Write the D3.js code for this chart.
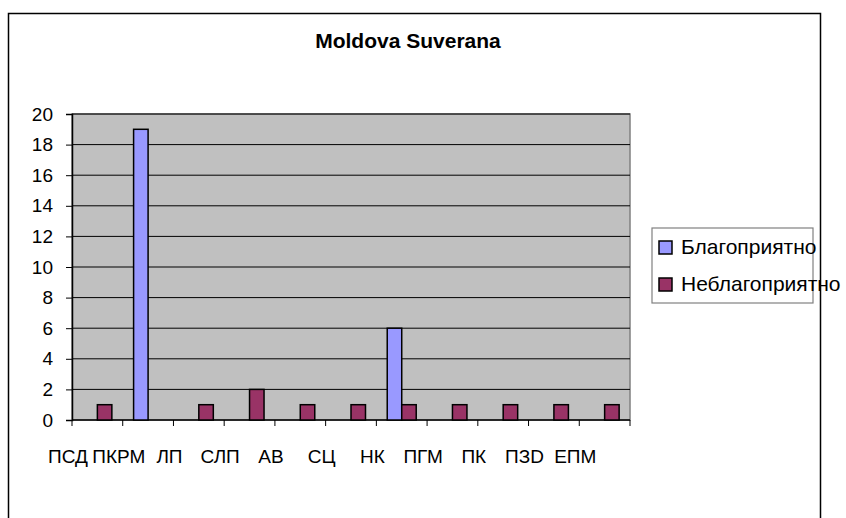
<!DOCTYPE html>
<html>
<head>
<meta charset="utf-8">
<script src="https://cdn.jsdelivr.net/npm/d3@7/dist/d3.min.js"></script>
<style>
  html, body { margin: 0; padding: 0; background: #fff; }
  svg { display: block; font-family: "Liberation Sans", Arial, sans-serif; }
</style>
</head>
<body>
<svg id="chart" width="846" height="518"></svg>
<script>
const title = "Moldova Suverana";
const categories = ["ПСД", "ПКРМ", "ЛП", "СЛП", "АВ", "СЦ", "НК", "ПГМ", "ПК", "ПЗD", "ЕПМ"];
const seriesNames = ["Благоприятно", "Неблагоприятно"];
const favorable = [0, 19, 0, 0, 0, 0, 6, 0, 0, 0, 0];
const unfavorable = [1, 0, 1, 2, 1, 1, 1, 1, 1, 1, 1];
const yTicks = [0, 2, 4, 6, 8, 10, 12, 14, 16, 18, 20];
const colors = ["#9999FF", "#993366"];

const svg = d3.select("#chart");
const plot = { left: 72, right: 630, top: 114, bottom: 420 };

// outer chart frame (bottom runs off the picture)
svg.append("path")
    .attr("d", "M8.5,530 V13.5 H820.5 V530")
    .attr("fill", "none")
    .attr("stroke", "#000")
    .attr("stroke-width", 1.5);

svg.append("text")
    .attr("x", 408)
    .attr("y", 48)
    .attr("text-anchor", "middle")
    .attr("font-size", 21)
    .attr("font-weight", "bold")
    .text(title);

const x0 = d3.scaleBand()
    .domain(categories)
    .range([plot.left, plot.right]);

// Excel-like clustered bars: gap width 150%
const groupWidth = x0.bandwidth() * 2 / 3.5;
const x1 = d3.scaleBand()
    .domain(seriesNames)
    .range([0, groupWidth]);

const y = d3.scaleLinear()
    .domain([0, 20])
    .range([plot.bottom, plot.top]);

// plot background
svg.append("rect")
    .attr("x", plot.left)
    .attr("y", plot.top)
    .attr("width", plot.right - plot.left)
    .attr("height", plot.bottom - plot.top)
    .attr("fill", "#C0C0C0")
    .attr("stroke", "#808080")
    .attr("stroke-width", 1.5);

// gridlines
svg.append("g")
    .selectAll("line")
    .data(yTicks.filter(d => d > 0))
    .join("line")
    .attr("x1", plot.left)
    .attr("x2", plot.right)
    .attr("y1", d => y(d))
    .attr("y2", d => y(d))
    .attr("stroke", "#000")
    .attr("stroke-width", 1);

// y axis
const yAxis = d3.axisLeft(y)
    .tickValues(yTicks)
    .tickSize(6)
    .tickPadding(13);

svg.append("g")
    .attr("transform", `translate(${plot.left}, 0)`)
    .call(yAxis)
    .call(g => g.select(".domain").attr("stroke", "#000").attr("stroke-width", 1.5))
    .call(g => g.selectAll(".tick line").attr("stroke", "#000"))
    .call(g => g.selectAll(".tick text")
        .attr("font-size", 19)
        .attr("font-family", "Liberation Sans, Arial, sans-serif")
        .attr("fill", "#000"));

// x axis: ticks at category boundaries
const xBoundaries = categories.map(d => x0(d)).concat([plot.right]);
const xAxisG = svg.append("g");
xAxisG.append("line")
    .attr("x1", plot.left)
    .attr("x2", plot.right)
    .attr("y1", plot.bottom)
    .attr("y2", plot.bottom)
    .attr("stroke", "#000")
    .attr("stroke-width", 1.5);
xAxisG.selectAll(".xtick")
    .data(xBoundaries)
    .join("line")
    .attr("class", "xtick")
    .attr("x1", d => d)
    .attr("x2", d => d)
    .attr("y1", plot.bottom)
    .attr("y2", plot.bottom + 6)
    .attr("stroke", "#000");

xAxisG.selectAll(".xlabel")
    .data(categories)
    .join("text")
    .attr("class", "xlabel")
    .attr("x", d => x0(d) - 4)
    .attr("y", 463)
    .attr("text-anchor", "middle")
    .attr("font-size", 19)
    .text(d => d);

// bars
const rows = categories.map((c, i) => ({
    category: c,
    values: [
        { series: seriesNames[0], value: favorable[i] },
        { series: seriesNames[1], value: unfavorable[i] }
    ]
}));

const groups = svg.append("g")
    .selectAll("g")
    .data(rows)
    .join("g")
    .attr("transform", d => `translate(${x0(d.category) + (x0.bandwidth() - groupWidth) / 2}, 0)`);

groups.selectAll("rect")
    .data(d => d.values.filter(v => v.value > 0))
    .join("rect")
    .attr("x", d => x1(d.series))
    .attr("y", d => y(d.value))
    .attr("width", x1.bandwidth())
    .attr("height", d => y(0) - y(d.value))
    .attr("fill", d => colors[seriesNames.indexOf(d.series)])
    .attr("stroke", "#000")
    .attr("stroke-width", 1.5);

// legend
const legend = svg.append("g");
legend.append("rect")
    .attr("x", 652)
    .attr("y", 228)
    .attr("width", 161)
    .attr("height", 75)
    .attr("fill", "none")
    .attr("stroke", "#808080")
    .attr("stroke-width", 1.2);

const items = legend.selectAll(".item")
    .data(seriesNames)
    .join("g")
    .attr("class", "item")
    .attr("transform", (d, i) => `translate(659, ${241 + i * 37})`);

items.append("rect")
    .attr("width", 13)
    .attr("height", 13)
    .attr("fill", (d, i) => colors[i])
    .attr("stroke", "#000")
    .attr("stroke-width", 1.5);

items.append("text")
    .attr("x", 22)
    .attr("y", 13)
    .attr("font-size", 21)
    .text(d => d);
</script>
</body>
</html>
